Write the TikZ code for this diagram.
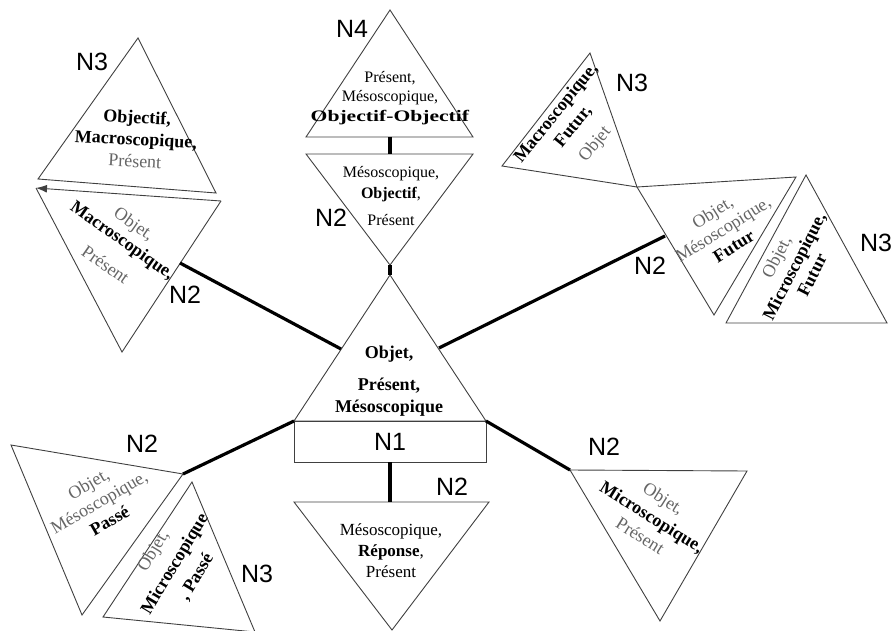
\documentclass[tikz,border=0pt]{standalone}
\usepackage{fontspec}
\setmainfont{Liberation Serif}
\newfontfamily\lvlfont{Liberation Sans}
\usetikzlibrary{arrows.meta}
\tikzset{
	tri/.style={draw=black!75, line width=0.9pt, line join=miter}
}
\tikzset{
	linkline/.style={line width=3.2pt}
}
\tikzset{
	lvltext/.style={font=\fontsize{25}{25}\selectfont\lvlfont, inner sep=0pt}
}
\tikzset{
	termtext/.style={font=\fontsize{17}{21}\selectfont, align=center, inner sep=0pt}
}
\newcommand{\tb}[1]{\textbf{#1}}
\newcommand{\tg}[1]{\textcolor{black!60}{#1}}

\begin{document}
\begin{tikzpicture}[x=1pt, y=-1pt]
      \useasboundingbox (0,0) rectangle (896,631);
      % centre
      \coordinate (c1) at (390,275); \coordinate (c2) at (294,421); \coordinate (c3) at (486,421);
      \draw[tri] (c1) -- (c2) -- (c3) -- cycle;
      \node[tri, lvltext, minimum width=192pt, minimum height=41pt, outer sep=0pt] (n1) at (390,441.5) {N1};
      \node[termtext, font=\fontsize{18}{22}\selectfont] (ctext) at (389,381) {\tb{Objet,}\\[10pt]\tb{Présent,}\\\tb{Mésoscopique}};
      % bas
      \coordinate (b1) at (294,502); \coordinate (b2) at (489,502); \coordinate (b3) at (392,630);
      \coordinate (bt) at (390,502);
      \draw[tri] (b1) -- (b2) -- (b3) -- cycle;
      \draw[linkline] (n1.south) -- (bt);
      \node[termtext] (btext) at (391,551) {Mésoscopique,\\\tb{Réponse},\\Présent};
      \node[lvltext] (bn) at (452,487) {N2};
      % haut
      \coordinate (t1) at (306,154); \coordinate (t2) at (473,154); \coordinate (t3) at (390,265);
      \coordinate (tt) at (390,154);
      \draw[tri] (t1) -- (t2) -- (t3) -- cycle;
      \draw[linkline] (t3) -- (c1);
      \node[termtext, font=\fontsize{16}{21}\selectfont] (ttext) at (391,196) {Mésoscopique,\\\tb{Objectif},\\[6pt]Présent};
      \node[lvltext] (tn) at (331,218) {N2};
      \coordinate (q1) at (390,10); \coordinate (q2) at (306,137); \coordinate (q3) at (473,137);
      \coordinate (qb) at (390,137);
      \draw[tri] (q1) -- (q2) -- (q3) -- cycle;
      \draw[linkline] (qb) -- (tt);
      \node[termtext, font=\fontsize{16}{19.5}\selectfont] (qtext) at (390,98) {Présent,\\Mésoscopique,\\\scalebox{1.35}[1]{\tb{Objectif-Objectif}}};
      \node[lvltext] (qn) at (352,29) {N4};
      % haut gauche
      \coordinate (a1) at (36,188); \coordinate (a2) at (221,201); \coordinate (a3) at (122,352);
      \coordinate (ul) at (180,263); \coordinate (cl) at (341,349);
      \draw[tri, -{Latex[length=11pt,width=8pt]}] (a2) -- (a1);
      \draw[tri] (a1) -- (a3) -- (a2);
      \draw[linkline] (ul) -- (cl);
      \node[termtext, font=\fontsize{18}{20}\selectfont, rotate=-35] (atext) at (120,244) {\tg{Objet,}\\\tb{Macroscopique,}\\[10pt]\tg{Présent}};
      \node[lvltext] (an) at (185,295) {N2};
      \coordinate (p1) at (138,38); \coordinate (p2) at (38,179); \coordinate (p3) at (216,193);
      \draw[tri] (p1) -- (p2) -- (p3) -- cycle;
      \node[termtext, font=\fontsize{18}{22}\selectfont, rotate=-3] (ptext) at (136,139) {\tb{Objectif,}\\\tb{Macroscopique,}\\\tg{Présent}};
      \node[lvltext] (pn) at (92,62) {N3};
      % haut droite
      \coordinate (r1) at (590,53); \coordinate (r2) at (502,166); \coordinate (r3) at (637,187);
      \draw[tri] (r1) -- (r2) -- (r3) -- cycle;
      \node[termtext, font=\fontsize{18}{22}\selectfont, rotate=51] (rtext) at (576,129) {\tb{Macroscopique,}\\\tb{Futur,}\\[6pt]\tg{Objet}};
      \node[lvltext] (rn) at (632,83) {N3};
      \coordinate (s1) at (637,187); \coordinate (s2) at (796,177); \coordinate (s3) at (714,315);
      \coordinate (ur) at (665,236); \coordinate (cr) at (439,348);
      \draw[tri] (s1) -- (s2) -- (s3) -- cycle;
      \draw[linkline] (ur) -- (cr);
      \node[termtext, font=\fontsize{18}{20}\selectfont, rotate=32] (stext) at (723,229) {\tg{Objet,}\\\tg{Mésoscopique,}\\\tb{Futur}};
      \node[lvltext] (sn) at (650,266) {N2};
      \coordinate (u1) at (806,175); \coordinate (u2) at (726,323); \coordinate (u3) at (887,323);
      \draw[tri] (u1) -- (u2) -- (u3) -- cycle;
      \node[termtext, font=\fontsize{18}{20}\selectfont, rotate=63] (utext) at (794,266) {\tg{Objet,}\\\tb{Microscopique,}\\\tb{Futur}};
      \node[lvltext] (un) at (876,243) {N3};
      % bas gauche
      \coordinate (v1) at (11,445); \coordinate (v2) at (183,474); \coordinate (v3) at (82,615);
      \draw[tri] (v1) -- (v2) -- (v3) -- cycle;
      \draw[linkline] (v2) -- (c2);
      \node[termtext, font=\fontsize{18}{21}\selectfont, rotate=30] (vtext) at (99,502) {\tg{Objet,}\\\tg{Mésoscopique,}\\\tb{Passé}};
      \node[lvltext] (vn) at (142,444) {N2};
      \coordinate (w1) at (192,482); \coordinate (w2) at (103,617); \coordinate (w3) at (255,632);
      \draw[tri] (w1) -- (w2) -- (w3) -- cycle;
      \node[termtext, font=\fontsize{18}{25}\selectfont, rotate=59] (wtext) at (175,564) {\tg{Objet,}\\\tb{Microscopique}\\\tb{, Passé}};
      \node[lvltext] (wn) at (257,574) {N3};
      % bas droite
      \coordinate (z1) at (570,470); \coordinate (z2) at (747,471); \coordinate (z3) at (660,621);
      \draw[tri] (z1) -- (z2) -- (z3) -- cycle;
      \draw[linkline] (z1) -- (c3);
      \node[termtext, font=\fontsize{18}{22}\selectfont, rotate=-32] (ztext) at (652,517) {\tg{Objet,}\\\tb{Microscopique,}\\\tg{Présent}};
      \node[lvltext] (zn) at (604,447) {N2};
    \end{tikzpicture}
\end{document}
